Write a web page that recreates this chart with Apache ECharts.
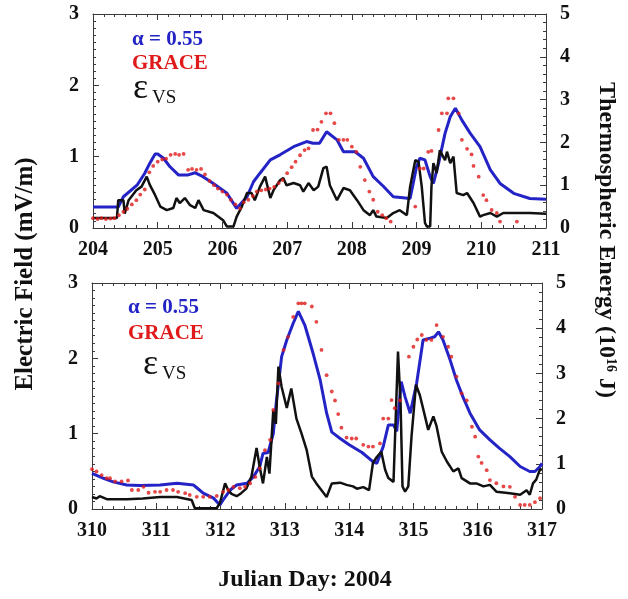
<!DOCTYPE html>
<html>
<head>
<meta charset="utf-8">
<script src="https://cdn.jsdelivr.net/npm/echarts@6/dist/echarts.min.js"></script>
<style>
html,body{margin:0;padding:0;background:#fff;}
#chart{width:628px;height:599px;}
</style>
</head>
<body>
<div id="chart"></div>
<script>
// ---------- Top panel (days 204-211) ----------
const topBlueDay = [204.0,204.39,204.47,204.68,204.8,204.88,204.96,205.0,205.09,205.19,205.32,205.47,205.58,205.7,205.86,206.07,206.22,206.25,206.38,206.48,206.58,206.74,206.89,207.1,207.3,207.4,207.5,207.61,207.64,207.77,207.87,208.05,208.18,208.33,208.49,208.64,208.9,208.93,209.0,209.05,209.13,209.21,209.26,209.34,209.44,209.52,209.6,209.62,209.7,209.83,209.98,210.14,210.29,210.5,210.75,211.0];
const topBlueVal = [0.49,0.49,0.73,1.0,1.28,1.52,1.73,1.73,1.63,1.43,1.24,1.24,1.29,1.2,1.04,0.81,0.46,0.42,0.73,1.08,1.28,1.59,1.71,1.9,2.02,1.98,1.98,2.25,2.29,2.06,1.78,1.78,1.63,1.2,0.97,0.73,0.69,0.73,1.43,1.63,1.59,1.2,1.04,1.51,2.21,2.6,2.8,2.83,2.52,2.21,1.9,1.36,1.04,0.81,0.69,0.67];

const topRedDay = [204.0,204.07,204.13,204.2,204.27,204.33,204.4,204.47,204.53,204.6,204.67,204.73,204.8,204.87,204.93,205.0,205.07,205.13,205.2,205.27,205.33,205.4,205.47,205.53,205.6,205.67,205.73,205.8,205.87,205.93,206.0,206.07,206.13,206.2,206.27,206.33,206.4,206.47,206.53,206.6,206.67,206.73,206.8,206.87,206.93,207.0,207.07,207.13,207.2,207.27,207.33,207.4,207.47,207.53,207.6,207.67,207.73,207.8,207.87,207.93,208.0,208.07,208.13,208.2,208.27,208.33,208.4,208.47,208.53,208.6,208.98,209.05,209.11,209.18,209.23,209.34,209.39,209.47,209.49,209.57,209.65,209.7,209.78,209.85,209.88,209.96,210.03,210.08,210.16,210.24,210.29,210.55];
const topRedVal = [0.23,0.21,0.23,0.21,0.22,0.23,0.3,0.38,0.45,0.55,0.65,0.78,0.9,1.3,1.45,1.55,1.6,1.62,1.71,1.73,1.71,1.73,1.36,1.38,1.36,1.38,1.25,1.1,1.0,0.92,0.85,0.78,0.66,0.55,0.46,0.6,0.66,0.75,0.85,0.88,0.9,0.92,0.96,1.05,1.12,1.28,1.42,1.55,1.7,1.82,1.86,2.29,2.3,2.48,2.68,2.68,2.45,2.06,2.06,2.06,1.9,1.78,1.43,1.12,0.85,0.66,0.38,0.3,0.23,0.15,0.5,1.39,1.39,1.78,1.8,2.29,2.68,2.68,3.03,3.03,2.68,2.06,1.85,1.72,1.45,1.2,0.77,0.65,0.42,0.35,0.15,0.15];

const topBlackDay = [204.0,204.37,204.39,204.47,204.49,204.55,204.67,204.75,204.83,204.88,204.96,205.04,205.14,205.24,205.29,205.34,205.42,205.5,205.58,205.63,205.71,205.86,206.01,206.07,206.17,206.22,206.3,206.38,206.45,206.5,206.58,206.66,206.74,206.79,206.89,206.94,206.99,207.1,207.2,207.25,207.33,207.41,207.48,207.56,207.61,207.66,207.77,207.87,207.97,208.08,208.18,208.28,208.33,208.38,208.54,208.64,208.74,208.85,208.9,208.98,209.03,209.08,209.13,209.16,209.21,209.23,209.26,209.31,209.36,209.41,209.44,209.47,209.52,209.57,209.62,209.72,209.78,209.88,209.98,210.03,210.14,210.24,210.34,210.55,210.75,211.0];
const topBlackVal = [0.14,0.14,0.39,0.39,0.2,0.39,0.53,0.58,0.72,0.6,0.46,0.3,0.25,0.28,0.42,0.35,0.42,0.32,0.28,0.39,0.25,0.21,0.11,0.02,0.02,0.16,0.3,0.49,0.49,0.39,0.58,0.72,0.42,0.53,0.67,0.7,0.6,0.63,0.6,0.51,0.63,0.53,0.58,0.84,0.86,0.6,0.39,0.56,0.53,0.39,0.25,0.18,0.25,0.16,0.14,0.21,0.25,0.18,0.58,0.95,0.93,0.58,0.07,0.02,0.02,0.58,0.91,0.77,1.09,1.0,0.95,1.07,0.91,1.0,0.49,0.46,0.49,0.35,0.16,0.18,0.21,0.16,0.21,0.21,0.21,0.2];

// ---------- Bottom panel (days 310-317) ----------
const botBlueDay = [310.0,310.18,310.33,310.54,310.75,311.06,311.32,311.58,311.63,311.73,311.89,311.99,312.04,312.15,312.25,312.41,312.51,312.61,312.66,312.74,312.82,312.87,312.95,313.03,313.13,313.21,313.31,313.44,313.55,313.65,313.73,313.86,314.0,314.2,314.37,314.43,314.53,314.61,314.69,314.74,314.76,314.81,314.87,314.95,314.97,315.05,315.15,315.26,315.33,315.39,315.46,315.57,315.67,315.77,315.88,316.03,316.19,316.34,316.5,316.66,316.81,316.89,316.97,317.0];
const botBlueVal = [0.79,0.68,0.6,0.53,0.52,0.53,0.57,0.53,0.47,0.35,0.24,0.09,0.2,0.42,0.53,0.57,0.71,0.94,1.23,1.25,1.67,2.41,3.37,3.74,4.11,4.37,4.07,3.44,2.85,2.12,1.7,1.56,1.42,1.25,1.05,1.01,1.38,1.86,1.86,1.72,1.68,2.82,2.48,2.12,2.15,2.78,3.74,3.78,3.81,3.92,3.74,3.3,2.85,2.48,2.12,1.75,1.53,1.34,1.16,0.94,0.83,0.83,0.94,1.01];

const botRedDay = [310.0,310.07,310.15,310.23,310.28,310.36,310.46,310.56,310.62,310.72,310.8,310.88,310.98,311.06,311.16,311.26,311.34,311.45,311.52,311.63,311.73,311.83,311.94,312.04,312.12,312.2,312.3,312.38,312.46,312.54,312.61,312.69,312.77,312.82,312.9,312.98,313.05,313.13,313.21,313.26,313.31,313.42,313.49,313.57,313.65,313.73,313.78,313.83,313.88,313.96,314.04,314.11,314.22,314.3,314.37,314.48,314.53,314.61,314.66,314.71,314.79,314.93,315.0,315.06,315.13,315.2,315.28,315.36,315.46,315.54,315.59,315.67,315.75,315.83,315.91,315.96,316.01,316.06,316.14,316.19,316.29,316.4,316.5,316.58,316.66,316.73,316.81,316.89,316.97];
const botRedVal = [0.88,0.83,0.75,0.68,0.68,0.61,0.61,0.63,0.42,0.42,0.49,0.36,0.38,0.38,0.42,0.42,0.38,0.35,0.31,0.27,0.27,0.27,0.29,0.38,0.42,0.49,0.46,0.49,0.57,0.71,0.9,1.3,1.53,2.19,2.78,3.52,3.81,4.25,4.55,4.55,4.55,4.48,4.14,3.52,2.96,2.6,2.4,2.1,1.8,1.58,1.56,1.56,1.42,1.38,1.38,1.45,2.0,2.0,2.41,2.23,2.4,3.37,3.59,3.75,3.85,3.74,3.74,4.07,3.81,3.59,3.37,2.93,2.56,2.4,1.82,1.6,1.16,1.02,0.86,0.64,0.57,0.5,0.49,0.27,0.09,0.09,0.09,0.15,0.24];

const botBlackDay = [310.0,310.07,310.12,310.23,310.54,310.79,311.06,311.32,311.55,311.6,311.94,311.99,312.07,312.12,312.17,312.25,312.32,312.4,312.48,312.56,312.61,312.66,312.72,312.76,312.82,312.86,312.9,312.95,313.03,313.1,313.18,313.26,313.34,313.42,313.49,313.57,313.65,313.73,313.86,313.96,314.06,314.12,314.22,314.31,314.37,314.43,314.5,314.56,314.61,314.69,314.71,314.76,314.8,314.83,314.87,314.92,314.97,315.04,315.1,315.18,315.23,315.31,315.36,315.44,315.52,315.62,315.7,315.75,315.88,315.98,316.09,316.19,316.29,316.5,316.66,316.76,316.81,316.86,316.91,316.97,317.0];
const botBlackVal = [0.16,0.14,0.17,0.13,0.13,0.14,0.16,0.16,0.12,0.01,0.01,0.08,0.34,0.25,0.2,0.17,0.21,0.27,0.43,0.81,0.55,0.34,0.69,0.47,1.31,1.13,1.89,1.62,1.34,1.6,1.2,1.0,0.78,0.43,0.34,0.25,0.16,0.34,0.35,0.32,0.3,0.27,0.29,0.25,0.61,0.69,0.76,0.52,0.41,0.36,0.34,2.09,1.4,0.3,0.23,0.3,0.96,1.65,1.51,1.23,1.05,1.23,1.1,0.76,0.63,0.5,0.54,0.41,0.34,0.34,0.3,0.32,0.23,0.21,0.19,0.25,0.19,0.34,0.39,0.53,0.52];

// Axis ticks
const leftTicks = [0, 1, 2, 3];
const rightTicks = [0, 1, 2, 3, 4, 5];
const topDays = [204, 211];
const botDays = [310, 317];

// Texts
const legendAlpha = 'α = 0.55';
const legendGrace = 'GRACE';
const legendEps = 'ε';
const legendEpsSub = 'VS';
const xTitle = 'Julian Day: 2004';
const leftTitle = 'Electric Field (mV/m)';

const BLUE = '#2323c6', RED = '#e01a1a', BLACK = '#111111', AXIS = '#3a3a3a';
const FONT = '"Liberation Serif", "Times New Roman", serif';

function zip(xs, ys){ return xs.map((x,i)=>[x, ys[i]]); }

function xAx(grid, range, pos, showLabel){
  return {
    type:'value', gridIndex:grid, min:range[0], max:range[1], interval:1, position:pos,
    axisLine:{show:true, onZero:false, lineStyle:{color:AXIS, width:1}},
    axisTick:{show:true, inside:true, length:6, lineStyle:{color:AXIS}},
    minorTick:{show:true, splitNumber:6, length:3, lineStyle:{color:AXIS}},
    splitLine:{show:false},
    axisLabel:{show:showLabel, margin:12, fontFamily:FONT, fontWeight:'bold', fontSize:20, color:BLACK}
  };
}
function yAx(grid, ticks, pos, minorSplit){
  return {
    type:'value', gridIndex:grid, min:ticks[0], max:ticks[ticks.length-1], interval:1, position:pos,
    axisLine:{show:true, onZero:false, lineStyle:{color:AXIS, width:1}},
    axisTick:{show:true, inside:true, length:6, lineStyle:{color:AXIS}},
    minorTick:{show:true, splitNumber:minorSplit, length:3, lineStyle:{color:AXIS}},
    splitLine:{show:false},
    axisLabel:{margin:14, fontFamily:FONT, fontWeight:'bold', fontSize:20, color:BLACK}
  };
}
function lineS(x, y, xi, yi, color, w, z){
  return {type:'line', xAxisIndex:xi, yAxisIndex:yi, data:zip(x,y), showSymbol:false, symbol:'none',
    lineStyle:{color:color, width:w}, z:z, silent:true, animation:false};
}
function dotS(x, y, xi, yi){
  return {type:'scatter', xAxisIndex:xi, yAxisIndex:yi, data:zip(x,y), symbol:'circle', symbolSize:3.8,
    itemStyle:{color:RED}, z:4, silent:true, animation:false};
}
function legend(x, y1, y2, ex, ey){
  return [
    {type:'text', left:x, top:y1, style:{text:legendAlpha, fill:BLUE, font:'bold 21px '+FONT}},
    {type:'text', left:x, top:y2, style:{text:legendGrace, fill:RED, font:'bold 21px '+FONT}},
    {type:'text', left:ex, top:ey-7, style:{text:legendEps, fill:BLACK, font:'36px '+FONT}},
    {type:'text', left:ex+19, top:ey+11, style:{text:legendEpsSub, fill:BLACK, font:'19px '+FONT}}
  ];
}

const chart = echarts.init(document.getElementById('chart'), null, {renderer:'canvas'});
chart.setOption({
  backgroundColor:'#ffffff',
  animation:false,
  grid:[
    {left:93, top:14, width:453, height:214},
    {left:92, top:283, width:450, height:226}
  ],
  xAxis:[ xAx(0, topDays, 'bottom', true), xAx(0, topDays, 'top', false),
          xAx(1, botDays, 'bottom', true), xAx(1, botDays, 'top', false) ],
  yAxis:[ yAx(0, leftTicks, 'left', 10), yAx(0, rightTicks, 'right', 5),
          yAx(1, leftTicks, 'left', 10), yAx(1, rightTicks, 'right', 5) ],
  series:[
    lineS(topBlueDay, topBlueVal, 0, 1, BLUE, 3, 2),
    dotS(topRedDay, topRedVal, 0, 1),
    lineS(topBlackDay, topBlackVal, 0, 0, BLACK, 2.5, 3),
    lineS(botBlueDay, botBlueVal, 2, 3, BLUE, 3, 2),
    dotS(botRedDay, botRedVal, 2, 3),
    lineS(botBlackDay, botBlackVal, 2, 2, BLACK, 2.5, 3)
  ],
  graphic:[].concat(
    legend(132, 29, 53, 133, 78),
    legend(128, 297, 323, 143, 354),
    [
      {type:'text', x:305, y:580, style:{text:xTitle, fill:BLACK, font:'bold 24px '+FONT, textAlign:'center', textVerticalAlign:'middle'}},
      {type:'text', x:26, y:274, rotation:Math.PI/2, style:{text:leftTitle, fill:BLACK, font:'bold 25px '+FONT, textAlign:'center', textVerticalAlign:'middle'}},
      {type:'text', x:606, y:240, rotation:-Math.PI/2, style:{
        text:'{a|Thermospheric Energy (10}{s|16}{a| J)}',
        rich:{a:{font:'bold 24px '+FONT, fill:BLACK}, s:{font:'bold 14px '+FONT, fill:BLACK, padding:[0,0,10,0]}},
        textAlign:'center', textVerticalAlign:'middle'}}
    ]
  )
});
</script>
</body>
</html>
